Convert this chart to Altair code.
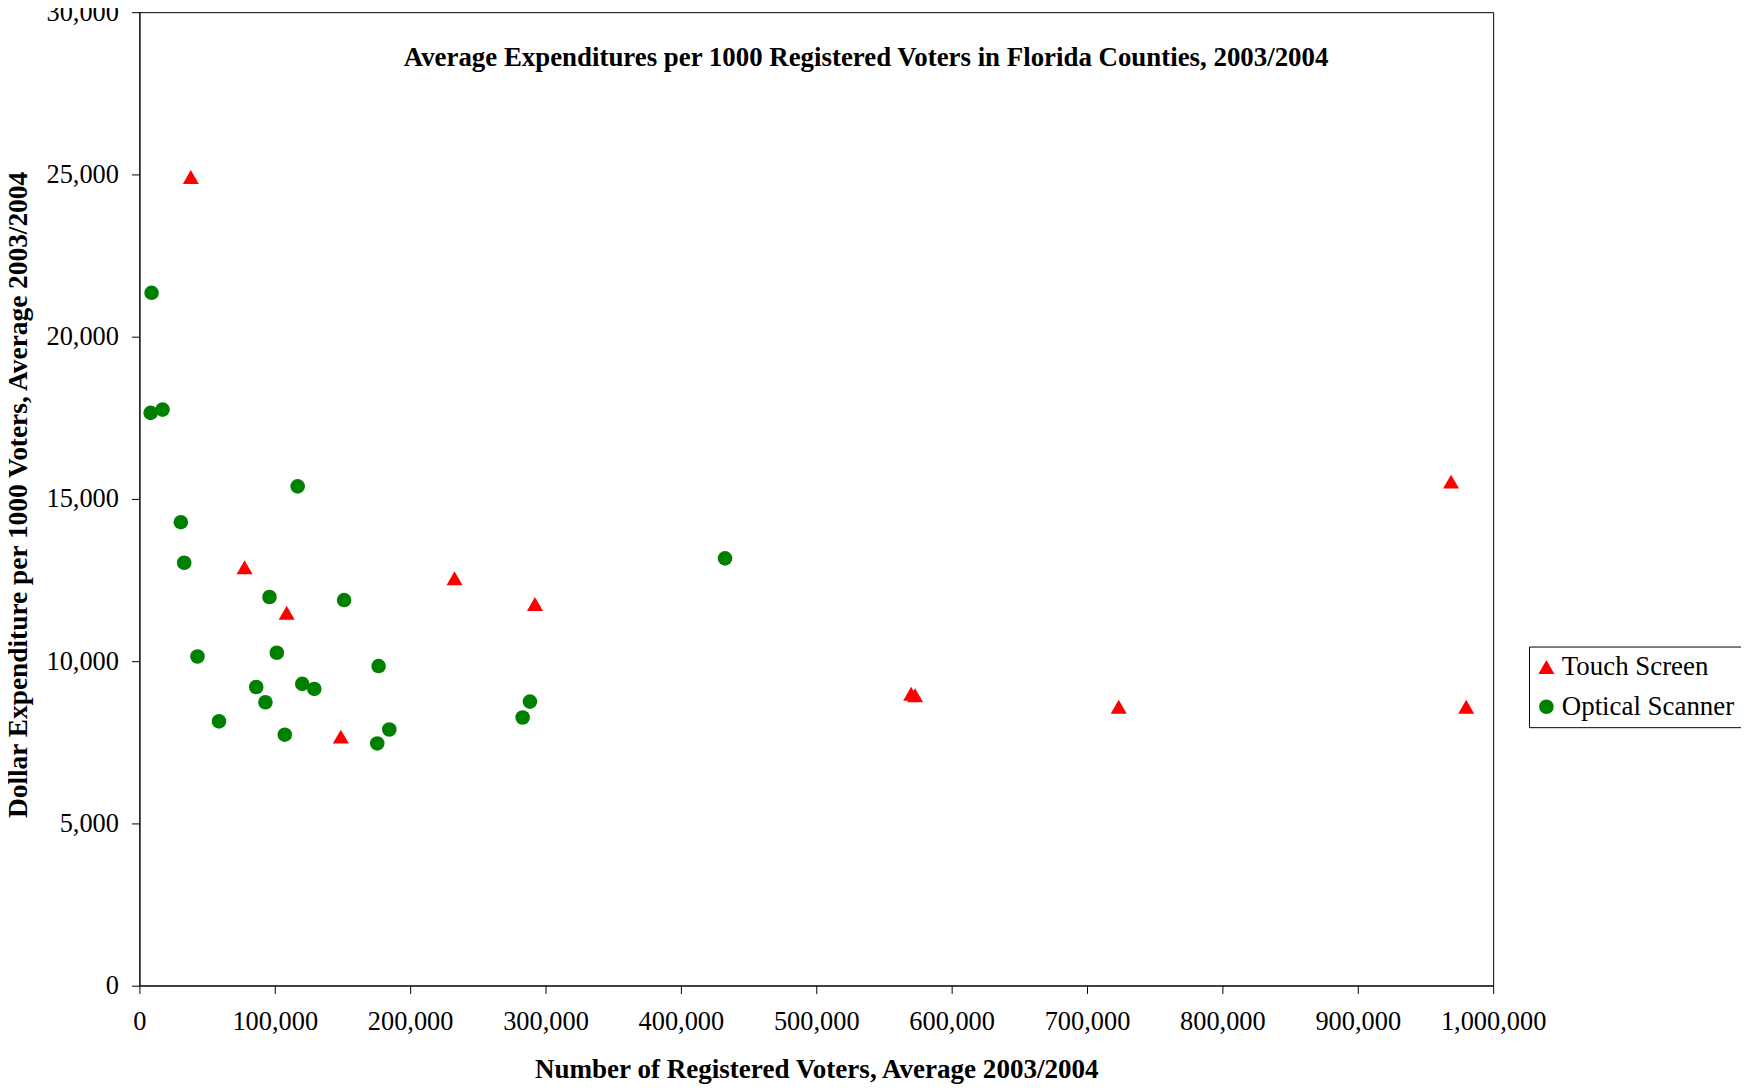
import altair as alt
import pandas as pd

series_names = ["Touch Screen", "Optical Scanner"]

touch_x = [38000, 77700, 108800, 148800, 232800, 292200, 570100, 573000, 723400, 968900, 980100]
touch_y = [24920, 12890, 11490, 7670, 12550, 11760, 8990, 8945, 8590, 15530, 8590]

optical_x = [9000, 8300, 17100, 30600, 33100, 42900, 58800, 86300, 93100, 96100, 101500,
             107400, 116900, 120300, 129200, 151200, 175700, 176700, 184600, 283100, 288500, 432600]
optical_y = [21350, 17650, 17750, 14280, 13030, 10140, 8140, 9200, 8730, 11975, 10255,
             7730, 15385, 9295, 9140, 11880, 7460, 9845, 7890, 8260, 8750, 13165]

x_ticks = [0, 100000, 200000, 300000, 400000, 500000, 600000, 700000, 800000, 900000, 1000000]
y_ticks = [0, 5000, 10000, 15000, 20000, 25000, 30000]

df = pd.concat([
    pd.DataFrame({"voters": touch_x, "expend": touch_y, "type": series_names[0]}),
    pd.DataFrame({"voters": optical_x, "expend": optical_y, "type": series_names[1]}),
], ignore_index=True)

FONT = "Liberation Serif"

legend = alt.Legend(
    title=None, orient="none", legendX=1396, legendY=637.3,
    strokeColor="black", fillColor="white", cornerRadius=0,
    padding=7, rowPadding=12, labelFont=FONT, labelFontSize=27, labelColor="black",
    symbolSize=225, labelOffset=2, symbolOffset=-3, symbolStrokeWidth=0, labelLimit=0,
)

chart = alt.Chart(df).mark_point(filled=True, opacity=1, strokeWidth=0).encode(
    x=alt.X("voters:Q",
            scale=alt.Scale(domain=[0, 1000000], nice=False, zero=True),
            axis=alt.Axis(values=x_ticks, format=",d", grid=False,
                          title="Number of Registered Voters, Average 2003/2004",
                          labelFlush=False, labelOverlap=False,
                          labelPadding=15, titleY=84, titleBaseline="middle")),
    y=alt.Y("expend:Q",
            scale=alt.Scale(domain=[0, 30000], nice=False, zero=True),
            axis=alt.Axis(values=y_ticks, format=",d", grid=False,
                          title="Dollar Expenditure per 1000 Voters, Average 2003/2004",
                          labelFlush=False, labelOverlap=False,
                          labelPadding=13, titleX=-121, titleY=484.5, titleFontSize=27.5,
                          titleAngle=270, titleAlign="center", titleBaseline="middle")),
    color=alt.Color("type:N", scale=alt.Scale(domain=series_names, range=["#FF0000", "#008000"]),
                    legend=legend),
    shape=alt.Shape("type:N", scale=alt.Scale(domain=series_names, range=["triangle-up", "circle"]),
                    legend=legend),
    size=alt.Size("type:N", scale=alt.Scale(domain=series_names, range=[260, 215]), legend=None),
).properties(
    width=1360, height=977.8,
    background="white",
    autosize=alt.AutoSizeParams(type="none"),
    padding={"left": 132, "top": 1.7, "right": 249, "bottom": 101.5},
    title=alt.TitleParams(
        text="Average Expenditures per 1000 Registered Voters in Florida Counties, 2003/2004",
        font=FONT, fontSize=27, fontWeight="bold", color="black",
        anchor="middle", frame="group", orient="top", offset=0,
        baseline="middle", dy=86.5, dx=50,
    ),
).configure_view(
    stroke="black", strokeWidth=1, fill="white"
).configure_axis(
    domainColor="black", domainWidth=1, tickColor="black", tickSize=8, tickWidth=1,
    labelFont=FONT, labelFontSize=26.5, labelColor="black",
    titleFont=FONT, titleFontSize=27.2, titleFontWeight="bold", titleColor="black",
).configure_legend(
    strokeWidth=1
)

chart.save("out.html", embed_options={"renderer": "svg", "actions": False})
